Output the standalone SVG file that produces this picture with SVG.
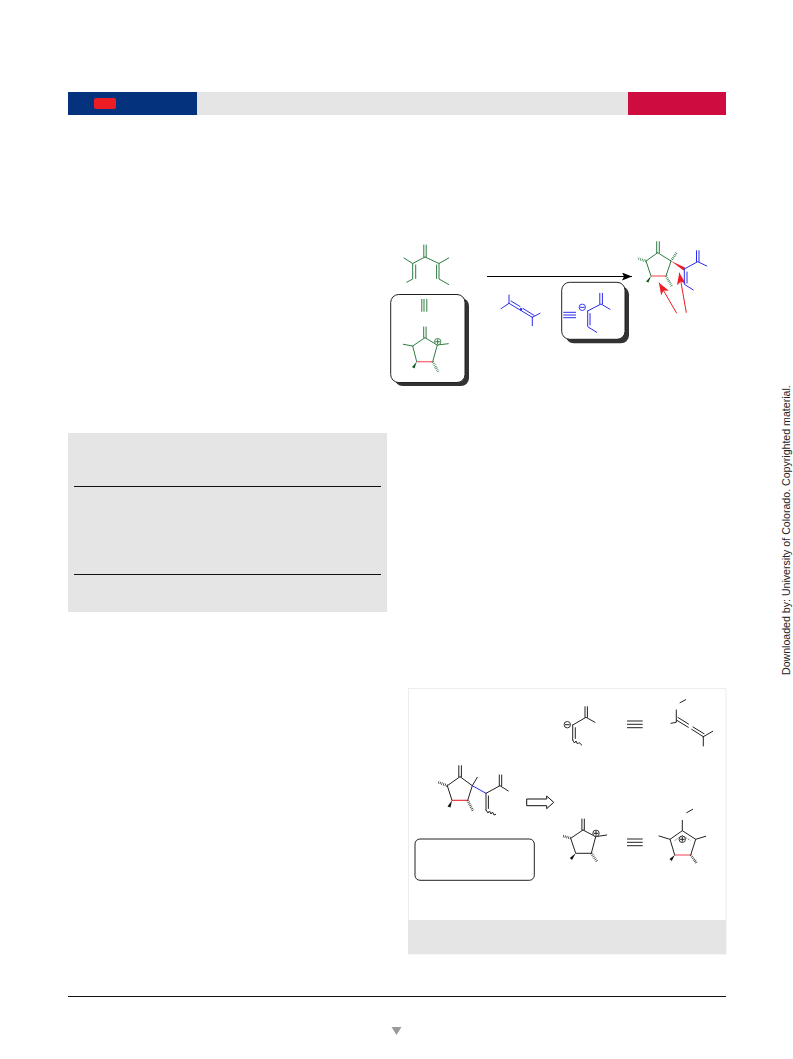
<svg xmlns="http://www.w3.org/2000/svg" width="793" height="1059" viewBox="0 0 793 1059">
<style>
.l{fill:none;stroke-width:1;stroke-linecap:round}
.g{stroke:#2f7d43}.b{stroke:#2a2af0}.k{stroke:#222}.r{stroke:#f4606c;stroke-width:1.200}
.h{fill:none;stroke-width:2.600;stroke-dasharray:.7 1.100}
.bar{stroke-width:1;fill:none}
.box{fill:#fff;stroke:#222;stroke-width:1}
.sh{fill:#333}
.ra{stroke:#ee1c25;stroke-width:1;fill:none}
</style>
<defs>
<marker id="ah" viewBox="0 0 10 8" refX="10" refY="4" markerWidth="10" markerHeight="8" markerUnits="userSpaceOnUse" orient="auto"><path d="M0 0L10 4L0 8L2 4Z" fill="#000"/></marker>
<marker id="rh" viewBox="0 0 12 9" refX="12" refY="4.500" markerWidth="12" markerHeight="9" markerUnits="userSpaceOnUse" orient="auto"><path d="M0 0L12 4.500L0 9L3 4.500Z" fill="#ee1c25"/></marker>
</defs>
<rect width="793" height="1059" fill="#fff"/>
<g id="header">
<rect x="197" y="92" width="431" height="23" fill="#e5e5e5"/>
<rect x="68" y="92" width="129" height="23" fill="#05327d"/>
<rect x="628" y="92" width="98" height="23" fill="#ce0c3f"/>
<rect x="94" y="98" width="22" height="11" rx="2" fill="#ee1c25"/>
</g>
<g id="table">
<rect x="68" y="433" width="319" height="179" fill="#e5e5e5"/>
<path d="M74 486.500H381M74 574.500H381" stroke="#111" stroke-width="1" fill="none"/>
</g>
<g id="panel">
<rect x="408.500" y="688.500" width="317.500" height="265.500" fill="#fff" stroke="#ededed" stroke-width="1"/>
<rect x="408" y="920" width="318" height="34" fill="#e5e5e5"/>
</g>
<g id="triene">
<path class="l g" d="M423.800 245V257M426.200 245V257M425 257L412.700 263.500L404 258M425 257L439 263.500L448.700 258M412.700 263.500V279L406.700 282.300M415.700 265V278.500M439 263.500V279L448.700 284.500M436.600 265V278.500"/>
</g>
<g id="cation-box">
<rect class="sh" x="394.700" y="298" width="74.300" height="88" rx="8"/>
<rect class="box" x="390.700" y="294.500" width="74.300" height="88" rx="8"/>
<path class="bar g" d="M421.800 299V311.700M424 299V311.700M426.800 299V311.700"/>
<path class="l g" d="M423.700 327V337.500M426.100 327V337.500M425 337.700L437.300 345L432.700 361.700M416.700 361.700L412.700 346L425 337.700M412.700 346L403.300 344.300M437.300 345L448.300 343.700"/>
<path class="r" d="M416.700 361.700H432.700" fill="none"/>
<path d="M416.700 361.700L412 367L414.500 368.500Z" fill="#0f5a26"/>
<path class="h g" d="M432.700 361.700L438.300 371.700"/>
<circle cx="437.700" cy="341.700" r="3.200" fill="#fff" stroke="#2f7d43" stroke-width=".9"/>
<path class="l g" d="M435.700 341.700H439.700M437.700 339.700V343.700"/>
</g>
<g id="connectors">
<path d="M487 276.500H632" stroke="#000" stroke-width="1" fill="none" marker-end="url(#ah)"/>
<path class="ra" d="M676.700 313.300L659 282.700" marker-end="url(#rh)"/>
<path class="ra" d="M686.300 312.700L679.300 272.700" marker-end="url(#rh)"/>
<path d="M526.700 799H546.700V796L553.700 802.300L546.700 808.700V805.700H526.700Z" fill="#fff" stroke="#111" stroke-width="1"/>
</g>
<g id="allene">
<path class="l b" d="M509 295V303.300L501 308.700M509 303.300L532.300 317.300M511 301L520 306.500M523 308.500L534 315.300M532.300 317.300L540 313.300M532.300 317.300V325.700"/>
<circle cx="521" cy="309.300" r="1.200" fill="#2a2af0"/>
</g>
<g id="anion-box">
<rect class="sh" x="565.700" y="286.300" width="63.300" height="57" rx="8"/>
<rect class="box" x="561.700" y="282.300" width="63.300" height="57" rx="8"/>
<path class="bar b" d="M563.300 312.300H576M563.300 315H576M563.300 317.700H576"/>
<circle cx="582.300" cy="307.300" r="3.200" fill="none" stroke="#2a2af0" stroke-width=".9"/>
<path class="l b" d="M580.300 307.300H584.300M587.700 311L601 304L610 309.300M599.800 293.300V304M602.400 293.300V304M587.700 311V326.700L596.700 332.300M590 313.500V325"/>
</g>
<g id="product">
<path class="l g" d="M656.700 241.700V252.700M659.300 241.700V252.700M657.700 252.700L671 261L666 276M651 276L646 261L657.700 252.700"/>
<path class="r" d="M651 276H666" fill="none"/>
<path class="h g" d="M646 261L637.300 258.300M666 276L671.700 286M671 261L676.700 252.300"/>
<path d="M651 276L646 281.500L648.500 282.500Z" fill="#0f5a26"/>
<path d="M671 261L683.500 270.500L685 267.500Z" fill="#ee1c25"/>
<path class="l b" d="M684.300 269L697.700 261.700L706.700 266M696.500 250.700V261.700M699 250.700V261.700M684.300 269V284.300L693.300 290M687 272V283"/>
</g>
<g id="retro-product">
<path class="l k" d="M458.800 765.700V776.700M461.400 765.700V776.700M460 776.700L472.300 785.700L467.700 800.300M452 800.300L447.300 785.700L460 776.700M472.300 785.700L477.300 777.300M486 793.300L500 785.700L508.300 791M499.300 775V785.700M501.700 775V785.700M486 793.300V810M488.400 796V808.500"/>
<path d="M452 800.300H467.700" stroke="#e8202a" stroke-width="1.100" fill="none"/>
<path d="M472.300 785.700L486 793.300" stroke="#2a2af0" stroke-width="1" fill="none"/>
<path class="h k" d="M447.300 785.700L438.300 782.300M467.700 800.300L473 811"/>
<path d="M452 800.300L447.500 806.500L450.500 807.500Z" fill="#111"/>
<path class="l k" d="M486 810L488 813L489.500 811L491 814L492.500 812L494 815L495.700 814.300"/>
</g>
<g id="note-box"><rect x="415" y="839" width="119.300" height="41.300" rx="5" fill="#fff" stroke="#222" stroke-width="1"/></g>
<g id="anion">
<circle cx="567.300" cy="724.700" r="3.200" fill="none" stroke="#222" stroke-width=".9"/>
<path class="l k" d="M565.300 724.700H569.300M572.700 725L586 717.300L595 722.300M585 706.700V717.300M587.400 706.700V717.300M572.700 725V740M575.300 727.700V738.500M572.700 740L574.500 743L576 741L577.500 744L579 742.500L581.700 745"/>
</g>
<path id="eq1" class="bar k" d="M627 721H642.700M627 724.300H642.700M627 727.700H642.700"/>
<g id="allene-2">
<path class="l k" d="M685.700 699.700L680 702.700M676.300 710V722.300L671 723.300M676.300 720L688.300 727.300M678 717.500L688.500 724M691.700 729.300L703.300 736.700M693 727L704 733.700M703.300 736.700L712.700 731.300M703.300 736.700V746"/>
</g>
<g id="ring-cation">
<path class="l k" d="M581.900 819V830M584.300 819V830M583 830L595.700 836.700L591.300 853.300H575.700L570.700 838.300L583 830M595.700 836.700L606.700 835"/>
<path class="h k" d="M570.700 838.300L562.300 835.700M591.300 853.300L597.300 862"/>
<path d="M575.700 853.300L569.800 858L572 860Z" fill="#111"/>
<circle cx="596" cy="833.300" r="3.200" fill="#fff" stroke="#222" stroke-width=".9"/>
<path class="l k" d="M594 833.300H598M596 831.300V835.300"/>
</g>
<path id="eq2" class="bar k" d="M627 839H642.700M627 842.300H642.700M627 845.700H642.700"/>
<g id="ring-delocalized">
<path class="l k" d="M692.700 809.300L686.700 812.700M682.300 820.300V830.700L695.700 839.300L690.700 855M674.700 855L670 839.300L682.300 830.700M670 839.300L659 836M695.700 839.300L705.700 836.300"/>
<path d="M674.700 855H690.700" stroke="#f4606c" stroke-width="1.200" fill="none"/>
<path d="M674.700 840.500L682.300 835.500L690.500 840.500" fill="none" stroke="#222" stroke-width=".8" stroke-dasharray="1 1.300"/>
<path d="M674.700 855L669.500 859L671.800 861Z" fill="#111"/>
<path class="h k" d="M690.700 855L696.700 863.300"/>
<circle cx="682.300" cy="839.300" r="3.200" fill="none" stroke="#222" stroke-width=".9"/>
<path class="l k" d="M680.300 839.300H684.300M682.300 837.300V841.300"/>
</g>
<g id="footer">
<path d="M68 996.500H726" stroke="#111" stroke-width="1" fill="none"/>
<path d="M391.500 1027H401.500L396.500 1035Z" fill="#9a9a9a"/>
</g>
<text id="watermark" transform="translate(790 675) rotate(-90)" font-family="'Liberation Sans',Arial,sans-serif" font-size="10.600" fill="#222">Downloaded by: University of Colorado. Copyrighted material.</text>
</svg>
